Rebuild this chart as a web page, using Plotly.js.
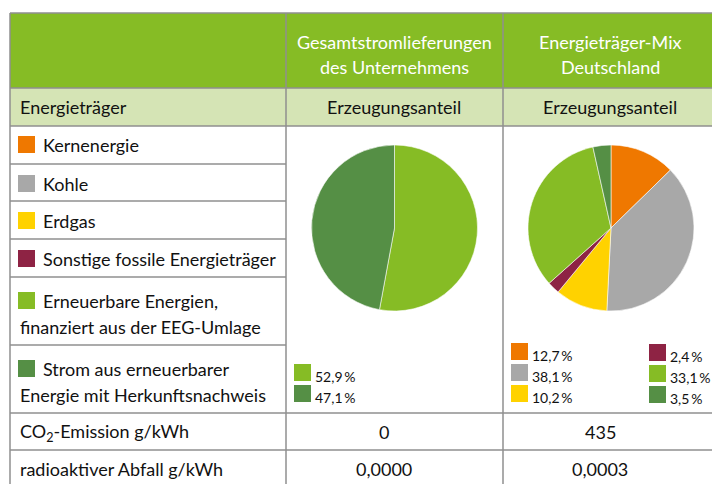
<!DOCTYPE html>
<html><head><meta charset="utf-8">
<script src="https://cdn.plot.ly/plotly-3.0.1.min.js"></script>
<style>html,body{margin:0;padding:0;background:#fff}#c{width:712px;height:484px}</style>
</head><body><div id="c"></div>
<script>
// ---- data ----
const categoryLines = [
  ['Kernenergie'],
  ['Kohle'],
  ['Erdgas'],
  ['Sonstige fossile Energieträger'],
  ['Erneuerbare Energien,', 'finanziert aus der EEG-Umlage'],
  ['Strom aus erneuerbarer', 'Energie mit Herkunftsnachweis']
];
const companyShares = [0, 0, 0, 0, 52.9, 47.1];
const germanyShares = [12.7, 38.1, 10.2, 2.4, 33.1, 3.5];
const columnTitles = [['Gesamtstromlieferungen', 'des Unternehmens'], ['Energieträger-Mix', 'Deutschland']];
const subHeader = ['Energieträger', 'Erzeugungsanteil', 'Erzeugungsanteil'];
const rowLabels = ['CO<sub>2</sub>-Emission g/kWh', 'radioaktiver Abfall g/kWh'];
const co2Values = [0, 435];
const wasteValues = [0.0000, 0.0003];

// ---- style ----
const colors = ['#EF7800', '#A8A8A8', '#FFD200', '#8E2344', '#86BC25', '#558F45'];
const FONT = 'Lato, "Open Sans", sans-serif';
const W = 712, H = 484;
const X = v => v / W, Y = v => 1 - v / H;
const border = '#8f8f8f';
const FS = 18;

const shapes = [];
function rect(x0, y0, x1, y1, fill) {
  shapes.push({type: 'rect', xref: 'paper', yref: 'paper', x0: X(x0), x1: X(x1), y0: Y(y0), y1: Y(y1),
    fillcolor: fill, line: {width: 0}, layer: 'below'});
}
function hline(y, x0, x1) {
  shapes.push({type: 'line', xref: 'paper', yref: 'paper', x0: X(x0), x1: X(x1), y0: Y(y), y1: Y(y),
    line: {color: border, width: 1.5}});
}
function vline(x, y0, y1) {
  shapes.push({type: 'line', xref: 'paper', yref: 'paper', x0: X(x), x1: X(x), y0: Y(y0), y1: Y(y1),
    line: {color: border, width: 1.5}});
}
function swatch(x, y, c) {
  shapes.push({type: 'rect', xref: 'paper', yref: 'paper', x0: X(x), x1: X(x + 17), y0: Y(y), y1: Y(y + 17),
    fillcolor: c, line: {width: 0}});
}
const annotations = [];
function txt(s, x, y, opts) {
  opts = opts || {};
  annotations.push({text: s, xref: 'paper', yref: 'paper', x: X(x), y: Y(y), showarrow: false,
    xanchor: opts.anchor || 'left', yanchor: 'middle',
    font: {family: FONT, size: opts.size || FS, color: opts.color || '#111111'}});
}

const colX = [10, 286, 503, 717];
const rowY = [13, 88, 126, 164, 201, 239, 277, 345, 413, 450, 488];

rect(colX[0], rowY[0], colX[3], rowY[1], '#86BC25');
rect(colX[0], rowY[1], colX[3], rowY[2], '#D5E4B5');

[rowY[0], rowY[1], rowY[2], rowY[8], rowY[9]].forEach(y => hline(y, colX[0], colX[3]));
[rowY[3], rowY[4], rowY[5], rowY[6], rowY[7]].forEach(y => hline(y, colX[0], colX[1]));
[colX[0], colX[1], colX[2]].forEach(x => vline(x, rowY[0], rowY[10]));

// header
const colCenters = [394, 610];
columnTitles.forEach((lines, i) => {
  txt(lines[0], colCenters[i], 42, {anchor: 'center', color: '#ffffff'});
  txt(lines[1], colCenters[i], 67, {anchor: 'center', color: '#ffffff'});
});
txt(subHeader[0], 18, 107);
txt(subHeader[1], colCenters[0], 107, {anchor: 'center'});
txt(subHeader[2], colCenters[1], 107, {anchor: 'center'});

// category rows
const swY = [136, 175, 212, 250, 292, 360];
categoryLines.forEach((lines, i) => {
  swatch(18, swY[i], colors[i]);
  txt(lines[0], 41, swY[i] + 9);
  if (lines[1]) txt(lines[1], 18, swY[i] + 35);
});

// percentage legends
const fmt = v => v.toFixed(1).replace('.', ',') + '\u2009%';
let k = 0;
companyShares.forEach((v, i) => {
  if (v > 0) {
    const y = 364 + k * 21;
    swatch(294, y, colors[i]);
    txt(fmt(v), 313, y + 12, {size: 14});
    k++;
  }
});
germanyShares.forEach((v, i) => {
  const col = Math.floor(i / 3), r = i % 3;
  const x = col === 0 ? 511 : 649;
  const y = (col === 0 ? 343 : 344) + r * 21;
  swatch(x, y, colors[i]);
  txt(fmt(v), x + 19, y + 12, {size: 14});
});

// bottom rows
txt(rowLabels[0], 18, 432);
txt(rowLabels[1], 18, 469);
const valCenters = [384, 600];
co2Values.forEach((v, i) => txt(String(v), valCenters[i], 432, {anchor: 'center'}));
wasteValues.forEach((v, i) => txt(v.toFixed(4).replace('.', ','), valCenters[i], 469, {anchor: 'center'}));

const labels = categoryLines.map(l => l.join(' '));
const nz = companyShares.map((v, i) => i).filter(i => companyShares[i] > 0);
const pieCommon = {type: 'pie', sort: false, direction: 'clockwise', rotation: 0,
  textinfo: 'none', hoverinfo: 'label+percent', showlegend: false};
const traces = [
  Object.assign({}, pieCommon, {labels: nz.map(i => labels[i]), values: nz.map(i => companyShares[i]),
    marker: {colors: nz.map(i => colors[i]), line: {color: 'rgba(255,255,255,0.7)', width: 0.8}},
    domain: {x: [X(311.5), X(477.5)], y: [Y(311), Y(145)]}}),
  Object.assign({}, pieCommon, {labels: labels, values: germanyShares,
    marker: {colors: colors, line: {color: 'rgba(255,255,255,0.7)', width: 0.8}},
    domain: {x: [X(528), X(694)], y: [Y(311), Y(145)]}})
];

Plotly.newPlot('c', traces, {
  width: W, height: H, margin: {l: 0, r: 0, t: 0, b: 0},
  paper_bgcolor: '#ffffff', plot_bgcolor: '#ffffff',
  shapes: shapes, annotations: annotations, font: {family: FONT}
}, {staticPlot: true, displayModeBar: false});
</script></body></html>
